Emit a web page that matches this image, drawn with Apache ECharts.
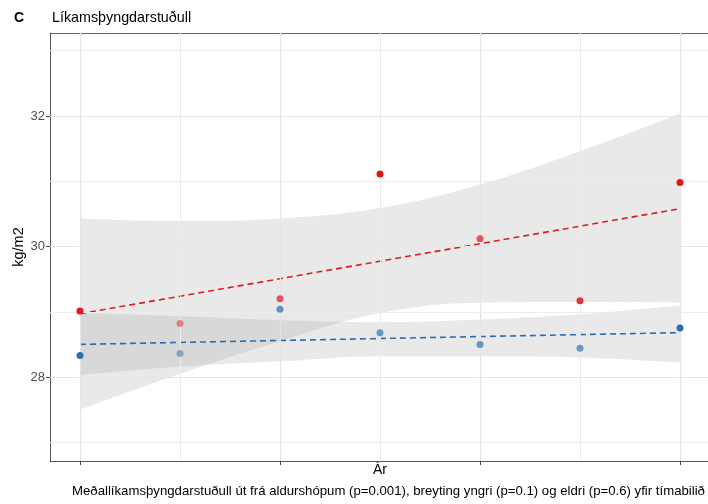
<!DOCTYPE html>
<html>
<head>
<meta charset="utf-8">
<script src="https://cdn.jsdelivr.net/npm/echarts@6/dist/echarts.min.js"></script>
<style>html,body{margin:0;padding:0;background:#fff;}#chart{width:708px;height:504px;}</style>
</head>
<body>
<div id="chart"></div>
<script>
// ---- data ----
const yearIndex = [0, 1, 2, 3, 4, 5, 6];
const xTickValues = [0, 2, 4, 6];
const xMinorValues = [1, 3, 5];
const yTickLabels = ['28', '30', '32'];
const yMinorValues = [27, 29, 31, 33];

const redBMI  = [29.01, 28.82, 29.20, 31.11, 30.12, 29.17, 30.98];
const blueBMI = [28.33, 28.36, 29.04, 28.68, 28.50, 28.44, 28.75];

const redFitEnds  = [28.97, 30.58];
const blueFitEnds = [28.50, 28.68];

const redUpper  = [30.43, 30.39, 30.43, 30.59, 30.95, 31.46, 32.04];
const redLower  = [27.50, 28.05, 28.55, 28.98, 29.14, 29.15, 29.14];
const blueUpper = [28.98, 28.93, 28.87, 28.84, 28.88, 28.96, 29.10];
const blueLower = [28.03, 28.16, 28.24, 28.32, 28.32, 28.30, 28.22];

// point transparency as seen in the picture (style, kept separate)
const redAlpha  = [1, 0.45, 0.7, 1, 0.7, 0.85, 1];
const blueAlpha = [1, 0.5, 0.72, 0.68, 0.68, 0.68, 1];

const titleLetter = 'C';
const titleText = 'Líkamsþyngdarstuðull';
const yName = 'kg/m2';
const xName = 'Ár';
const captionText = 'Meðallíkamsþyngdarstuðull út frá aldurshópum (p=0.001), breyting yngri (p=0.1) og eldri (p=0.6) yfir tímabilið';

// ---- build ----
const FONT = '"Liberation Sans", Arial, Helvetica, sans-serif';
const RED = '#e2141c', BLUE = '#2b6fb0';
const RED_LINE = '#d81e24', BLUE_LINE = '#2d6cae';
const BAND = 'rgba(153,153,153,0.22)';
const X_MIN = -0.3, X_MAX = 6.28, Y_MIN = 26.713, Y_MAX = 33.272;

// [y, x] order so the stacked dimension is y
const yxPairs = (xs, ys) => xs.map((x, i) => [ys[i], x]);
const diff = (up, lo) => up.map((v, i) => +(v - lo[i]).toFixed(4));
const lastX = yearIndex[yearIndex.length - 1];

function bandSeries(id, lower, upper) {
  return [
    { type: 'line', name: id + 'lo', stack: id, data: yxPairs(yearIndex, lower), encode: { x: 1, y: 0 }, smooth: 0.4,
      symbol: 'none', lineStyle: { opacity: 0, width: 0 }, silent: true, z: 2 },
    { type: 'line', name: id + 'hi', stack: id, data: yxPairs(yearIndex, diff(upper, lower)), encode: { x: 1, y: 0 }, smooth: 0.4,
      symbol: 'none', lineStyle: { opacity: 0, width: 0 }, areaStyle: { color: BAND, opacity: 1 }, silent: true, z: 2 }
  ];
}

const gridLines = [];
xTickValues.forEach(v => gridLines.push({ xAxis: v, lineStyle: { color: '#e4e4e4', width: 1.2, type: 'solid' } }));
xMinorValues.forEach(v => gridLines.push({ xAxis: v, lineStyle: { color: '#ececec', width: 1, type: 'solid' } }));
yTickLabels.forEach(v => gridLines.push({ yAxis: +v, lineStyle: { color: '#e4e4e4', width: 1.2, type: 'solid' } }));
yMinorValues.forEach(v => gridLines.push({ yAxis: v, lineStyle: { color: '#ececec', width: 1, type: 'solid' } }));

const chart = echarts.init(document.getElementById('chart'), null, { renderer: 'canvas' });
chart.setOption({
  animation: false,
  backgroundColor: '#fff',
  textStyle: { fontFamily: FONT },
  grid: { left: 50, right: 0, top: 33, bottom: 43, show: false },
  xAxis: [{
    type: 'value', min: X_MIN, max: X_MAX,
    axisLine: { show: true, onZero: false, lineStyle: { color: '#555', width: 1 } },
    axisTick: { show: true, length: 4, customValues: xTickValues, lineStyle: { color: '#444', width: 1 } },
    axisLabel: { show: false },
    splitLine: { show: false }
  }, {
    type: 'value', min: X_MIN, max: X_MAX, position: 'top',
    axisLine: { show: true, onZero: false, lineStyle: { color: '#666', width: 1 } },
    axisTick: { show: false }, axisLabel: { show: false }, splitLine: { show: false }
  }],
  yAxis: {
    type: 'value', min: Y_MIN, max: Y_MAX,
    axisLine: { show: true, onZero: false, lineStyle: { color: '#555', width: 1 } },
    axisTick: { show: true, length: 4, customValues: yTickLabels.map(Number), lineStyle: { color: '#444', width: 1 } },
    axisLabel: { show: true, customValues: yTickLabels.map(Number), margin: 5, color: '#4d4d4d', fontSize: 13, fontFamily: FONT,
                 formatter: v => yTickLabels.find(t => +t === v) || '' },
    splitLine: { show: false }
  },
  series: [
    { type: 'line', name: 'grid', data: [], silent: true, z: 0,
      markLine: { silent: true, symbol: 'none', label: { show: false }, animation: false, data: gridLines } },
    ...bandSeries('red', redLower, redUpper),
    ...bandSeries('blue', blueLower, blueUpper),
    { type: 'line', name: 'redFit', data: [[yearIndex[0], redFitEnds[0]], [lastX, redFitEnds[1]]], symbol: 'none',
      lineStyle: { color: RED_LINE, width: 1.6, type: [6, 4] }, z: 4, silent: true },
    { type: 'line', name: 'blueFit', data: [[yearIndex[0], blueFitEnds[0]], [lastX, blueFitEnds[1]]], symbol: 'none',
      lineStyle: { color: BLUE_LINE, width: 1.6, type: [6, 4] }, z: 4, silent: true },
    { type: 'scatter', name: 'red', symbolSize: 7, z: 5,
      data: yearIndex.map((x, i) => ({ value: [x, redBMI[i]], itemStyle: { color: RED, opacity: redAlpha[i] } })) },
    { type: 'scatter', name: 'blue', symbolSize: 7, z: 5,
      data: yearIndex.map((x, i) => ({ value: [x, blueBMI[i]], itemStyle: { color: BLUE, opacity: blueAlpha[i] } })) }
  ],
  graphic: [
    { type: 'text', x: 14, y: 18, style: { text: titleLetter, font: 'bold 14px ' + FONT, fill: '#000', textVerticalAlign: 'middle' } },
    { type: 'text', x: 52, y: 18, style: { text: titleText, font: '14.3px ' + FONT, fill: '#000', textVerticalAlign: 'middle' } },
    { type: 'text', x: 19, y: 247, rotation: Math.PI / 2, style: { text: yName, font: '14.5px ' + FONT, fill: '#000', textAlign: 'center', textVerticalAlign: 'middle' } },
    { type: 'text', x: 380, y: 470, style: { text: xName, font: '14px ' + FONT, fill: '#000', textAlign: 'center', textVerticalAlign: 'middle' } },
    { type: 'text', x: 72, y: 491, style: { text: captionText, font: '13.2px ' + FONT, fill: '#000', textVerticalAlign: 'middle' } }
  ]
});
</script>
</body>
</html>
